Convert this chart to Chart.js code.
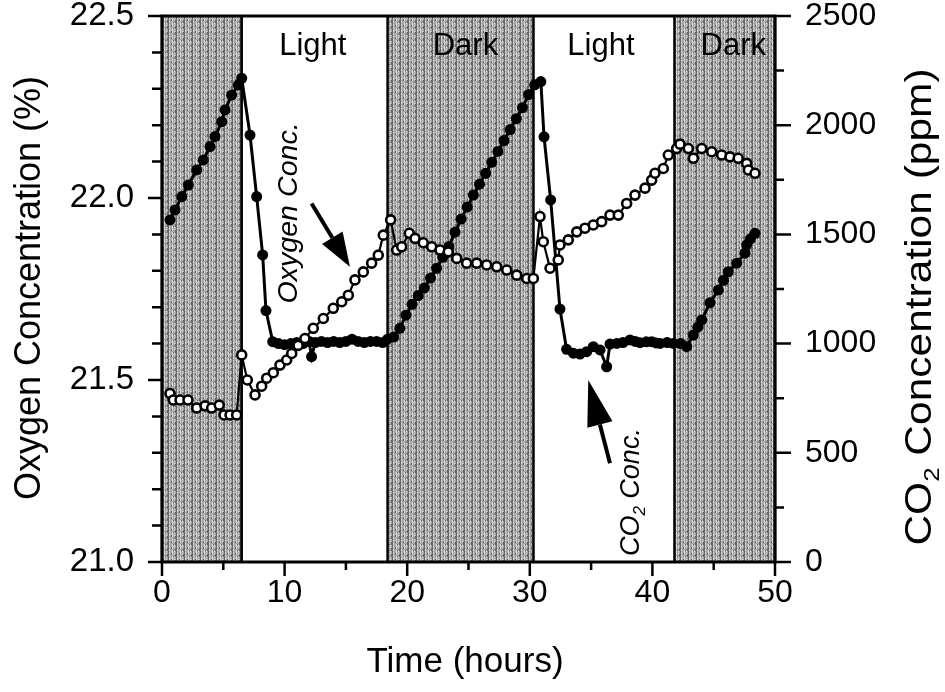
<!DOCTYPE html>
<html><head><meta charset="utf-8">
<script src="https://cdn.jsdelivr.net/npm/chart.js@4.4.1/dist/chart.umd.min.js"></script>
<style>html,body{margin:0;padding:0;background:#fff}canvas{display:block}</style>
</head><body>
<canvas id="c" width="945" height="692"></canvas>
<script>
// ---- data ----
const co2Hours = [0.65,1.06,1.61,2.15,2.83,3.37,3.92,4.32,4.87,5.14,5.68,6.22,6.5,
  7.18,7.72,8.21,8.48,9.03,
  9.5,10.0,10.5,11.0,11.5,12.0,12.2,12.5,13.0,13.5,14.0,14.5,15.0,15.5,16.0,16.5,17.0,17.5,18.0,18.4,
  18.9,19.4,19.9,20.4,20.9,21.4,21.9,22.4,22.9,23.4,23.9,24.4,24.9,25.4,25.9,26.4,26.9,27.4,27.9,28.4,28.9,29.4,29.9,30.4,30.9,
  31.16,31.7,32.46,33.0,
  33.55,34.1,34.64,35.18,35.73,36.27,36.54,37.09,37.6,38.17,38.6,38.99,39.5,39.94,40.3,40.62,41.2,41.71,42.3,42.8,
  43.34,43.7,44.02,44.7,45.38,45.8,46.19,46.88,47.55,47.69,48.0,48.37];
const co2Ppm = [1566,1612,1673,1726,1795,1841,1902,1948,2016,2070,2138,2184,2215,
  1955,1673,1406,1151,1009,
  1000,995,1000,1005,1000,1010,940,1005,1010,1005,1010,1005,1010,1020,1010,1005,1010,1010,1005,1020,
  1030,1070,1130,1180,1220,1255,1300,1345,1395,1445,1510,1570,1625,1680,1730,1780,1830,1880,1930,1980,2030,2080,2140,2185,2200,
  1947,1658,1158,974,
  956,952,963,986,971,894,998,1001,1005,1017,1010,1004,1008,1009,1003,1001,1005,1001,1000,986,
  1039,1075,1108,1187,1245,1290,1329,1368,1414,1452,1480,1505];
const o2Hours = [0.65,0.92,1.47,2.12,2.83,3.51,4.05,4.67,5.06,5.55,6.09,
  6.5,6.96,7.59,8.13,8.54,9.08,9.62,10.17,10.58,11.1,11.66,12.34,13.16,13.97,14.66,15.2,15.74,16.42,17.1,17.64,18.05,18.65,
  19.14,19.55,20.17,20.64,21.31,22.0,22.68,23.35,24.04,24.85,25.67,26.48,27.3,28.12,28.93,29.75,30.29,
  30.83,31.1,31.65,32.32,32.46,33.14,33.83,34.5,35.18,35.86,36.54,37.22,37.9,38.58,39.4,39.94,40.21,40.89,41.3,41.98,
  42.25,42.93,43.34,44.02,44.84,45.65,46.33,47.0,47.69,47.83,48.37];
const o2Percent = [21.463,21.445,21.445,21.445,21.423,21.429,21.423,21.431,21.404,21.404,21.404,
  21.569,21.5,21.459,21.483,21.505,21.52,21.541,21.555,21.573,21.595,21.614,21.642,21.669,21.697,21.715,21.733,21.775,21.797,21.821,21.843,21.898,21.94,
  21.857,21.866,21.903,21.889,21.877,21.866,21.857,21.852,21.834,21.821,21.821,21.816,21.811,21.802,21.788,21.779,21.779,
  21.949,21.88,21.807,21.83,21.871,21.885,21.907,21.917,21.926,21.935,21.953,21.953,21.985,22.008,22.027,22.049,22.068,22.081,22.118,22.136,
  22.148,22.136,22.109,22.136,22.127,22.118,22.113,22.109,22.095,22.077,22.068];
const darkStarts = [0, 18.4, 41.8];
const darkEnds = [6.5, 30.3, 50];
const phaseNames = ['Light', 'Dark', 'Light', 'Dark'];
const phaseCenters = [12.3, 24.75, 35.8, 46.6];
const xRange = [0, 50];
const o2Range = [21.0, 22.5];
const co2Range = [0, 2500];

// ---- styling helpers ----
const FONT = '"Liberation Sans", Arial, Helvetica, sans-serif';
function makePattern(ctx) {
  const c = document.createElement('canvas'); c.width = 8; c.height = 6;
  const p = c.getContext('2d');
  p.fillStyle = '#a6a6a6'; p.fillRect(0, 0, 8, 6);
  p.fillStyle = '#666666';
  p.fillRect(0, 0, 1, 6); p.fillRect(3, 1, 1, 2); p.fillRect(5, 4, 1, 1); p.fillRect(7, 2, 1, 3);
  p.fillStyle = '#dcdcdc';
  p.fillRect(1, 0, 1, 2); p.fillRect(1, 3, 1, 2); p.fillRect(4, 0, 1, 3); p.fillRect(4, 4, 1, 2);
  p.fillRect(6, 1, 1, 1); p.fillRect(6, 5, 1, 1);
  return ctx.createPattern(c, 'repeat');
}
function drawParts(ctx, parts, x, y, rot, size, style, sx) {
  ctx.save();
  ctx.translate(x, y); ctx.rotate(rot); ctx.scale(sx || 1, 1);
  const big = (style || '') + ' ' + size + 'px ' + FONT;
  const small = (style || '') + ' ' + Math.round(size * 0.62) + 'px ' + FONT;
  let total = 0;
  parts.forEach(p => { ctx.font = p[1] ? small : big; total += ctx.measureText(p[0]).width; });
  let cx = -total / 2;
  ctx.textBaseline = 'middle'; ctx.textAlign = 'left'; ctx.fillStyle = '#000';
  parts.forEach(p => {
    ctx.font = p[1] ? small : big;
    ctx.fillText(p[0], cx, p[1] ? size * 0.32 : 0);
    cx += ctx.measureText(p[0]).width;
  });
  ctx.restore();
}
function arrow(ctx, x0, y0, x1, y1, headLen, headHalf, lw) {
  const ang = Math.atan2(y1 - y0, x1 - x0);
  const bx = x1 - headLen * Math.cos(ang), by = y1 - headLen * Math.sin(ang);
  ctx.save();
  ctx.strokeStyle = '#000'; ctx.fillStyle = '#000'; ctx.lineWidth = lw;
  ctx.beginPath(); ctx.moveTo(x0, y0); ctx.lineTo(bx, by); ctx.stroke();
  ctx.beginPath();
  ctx.moveTo(x1, y1);
  ctx.lineTo(bx + headHalf * Math.sin(ang), by - headHalf * Math.cos(ang));
  ctx.lineTo(bx - headHalf * Math.sin(ang), by + headHalf * Math.cos(ang));
  ctx.closePath(); ctx.fill();
  ctx.restore();
}

let pattern = null;
const decor = {
  id: 'decor',
  beforeDatasetsDraw(chart) {
    const { ctx, chartArea: a, scales: { x } } = chart;
    if (!pattern) pattern = makePattern(ctx);
    ctx.save();
    for (let i = 0; i < darkStarts.length; i++) {
      const x0 = x.getPixelForValue(darkStarts[i]);
      const x1 = x.getPixelForValue(darkEnds[i]);
      ctx.fillStyle = pattern;
      ctx.fillRect(x0, a.top, x1 - x0, a.bottom - a.top);
      ctx.strokeStyle = '#000'; ctx.lineWidth = 2.5;
      ctx.beginPath();
      ctx.moveTo(x0, a.top); ctx.lineTo(x0, a.bottom);
      ctx.moveTo(x1, a.top); ctx.lineTo(x1, a.bottom);
      ctx.stroke();
    }
    ctx.fillStyle = '#000';
    ctx.font = '31px ' + FONT;
    ctx.textAlign = 'center'; ctx.textBaseline = 'alphabetic';
    phaseNames.forEach((n, i) => ctx.fillText(n, x.getPixelForValue(phaseCenters[i]), a.top + 39));
    ctx.restore();
  },
  afterDraw(chart) {
    const { ctx, chartArea: a, scales: { x, y, y1 } } = chart;
    ctx.save();
    // frame
    ctx.strokeStyle = '#000'; ctx.lineWidth = 3;
    ctx.strokeRect(a.left, a.top, a.right - a.left, a.bottom - a.top);
    // tick marks
    ctx.lineWidth = 2.5;
    ctx.beginPath();
    x.ticks.forEach(t => {
      const px = x.getPixelForValue(t.value);
      const len = Math.abs(t.value % 10) < 1e-6 ? 14 : 8;
      ctx.moveTo(px, a.bottom); ctx.lineTo(px, a.bottom + len);
    });
    y.ticks.forEach(t => {
      const py = y.getPixelForValue(t.value);
      const major = Math.abs(t.value * 2 - Math.round(t.value * 2)) < 1e-6;
      ctx.moveTo(a.left, py); ctx.lineTo(a.left - (major ? 14 : 10), py);
    });
    y1.ticks.forEach(t => {
      const py = y1.getPixelForValue(t.value);
      const major = Math.abs(t.value % 500) < 1e-6;
      ctx.moveTo(a.right, py); ctx.lineTo(a.right + (major ? 16 : 9), py);
    });
    ctx.stroke();
    // axis titles
    drawParts(ctx, [['Oxygen Concentration (%)', false]], 30, 288, -Math.PI / 2, 36, '', 1.0);
    drawParts(ctx, [['CO', false], ['2', true], [' Concentration (ppm)', false]], 921, 307, -Math.PI / 2, 36, '', 1.18);
    drawParts(ctx, [['Time (hours)', false]], 465, 662, 0, 35);
    // annotations
    drawParts(ctx, [['Oxygen Conc.', false]], x.getPixelForValue(10.36), y.getPixelForValue(21.959), -Math.PI / 2, 27, 'italic', 1.06);
    arrow(ctx, x.getPixelForValue(12.2), y.getPixelForValue(21.985), x.getPixelForValue(15.33), y.getPixelForValue(21.811), 34, 12, 4);
    drawParts(ctx, [['CO', false], ['2', true], [' Conc.', false]], x.getPixelForValue(38.3), y1.getPixelForValue(320), -Math.PI / 2, 27, 'italic');
    arrow(ctx, x.getPixelForValue(36.54), y1.getPixelForValue(452), x.getPixelForValue(34.77), y1.getPixelForValue(833), 46, 13, 4);
    ctx.restore();
  }
};

const co2Data = co2Hours.map((h, i) => ({ x: h, y: co2Ppm[i] }));
const o2Data = o2Hours.map((h, i) => ({ x: h, y: o2Percent[i] }));
const noPad = s => { s.paddingTop = 0; s.paddingBottom = 0; };

new Chart(document.getElementById('c'), {
  type: 'scatter',
  data: {
    datasets: [
      { label: 'CO2', data: co2Data, yAxisID: 'y1', showLine: true,
        borderColor: '#000', borderWidth: 3, pointRadius: 5.5, pointBackgroundColor: '#000',
        pointBorderColor: '#000', pointBorderWidth: 0, order: 1 },
      { label: 'O2', data: o2Data, yAxisID: 'y', showLine: true,
        borderColor: '#000', borderWidth: 2.2, pointRadius: 4.5, pointBackgroundColor: '#fff',
        pointBorderColor: '#000', pointBorderWidth: 2.6, order: 0 }
    ]
  },
  options: {
    responsive: false, animation: false, devicePixelRatio: 1,
    layout: { padding: { top: 16, left: 0, right: 0, bottom: 0 } },
    plugins: { legend: { display: false }, tooltip: { enabled: false } },
    scales: {
      x: {
        type: 'linear', position: 'bottom', min: xRange[0], max: xRange[1],
        grid: { display: false }, border: { display: false },
        ticks: { stepSize: 5, autoSkip: false, maxRotation: 0, padding: 7, color: '#000',
          font: { family: FONT, size: 32, lineHeight: 1 },
          callback: v => (Math.abs(v % 10) < 1e-6 ? String(v) : '') },
        afterFit: s => { s.height = 692 - 562; s.paddingLeft = 0; s.paddingRight = 0; }
      },
      y: {
        type: 'linear', position: 'left', min: o2Range[0], max: o2Range[1],
        grid: { display: false }, border: { display: false },
        ticks: { stepSize: 0.1, autoSkip: false, padding: 20, color: '#000',
          font: { family: FONT, size: 33, lineHeight: 1 },
          callback: v => (Math.abs(v * 2 - Math.round(v * 2)) < 1e-6 ? Number(v).toFixed(1) : '') },
        afterFit: s => { s.width = 162; noPad(s); }
      },
      y1: {
        type: 'linear', position: 'right', min: co2Range[0], max: co2Range[1],
        grid: { display: false }, border: { display: false },
        ticks: { stepSize: 250, autoSkip: false, padding: 22, color: '#000',
          font: { family: FONT, size: 32, lineHeight: 1 },
          callback: v => (Math.abs(v % 500) < 1e-6 ? String(v) : '') },
        afterFit: s => { s.width = 945 - 775; noPad(s); }
      }
    }
  },
  plugins: [decor]
});
</script>
</body></html>
